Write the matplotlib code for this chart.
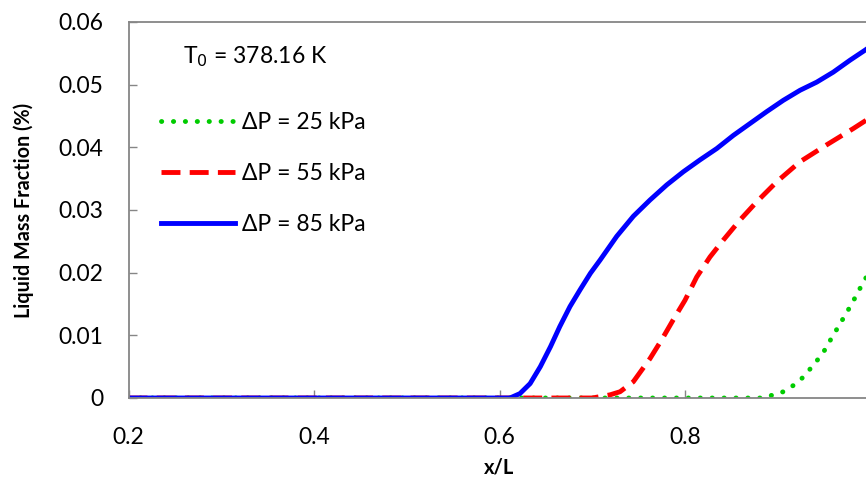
import matplotlib.pyplot as plt

# x/L positions and liquid mass fraction (%)
x_25 = [0.2, 0.6113, 0.72, 0.80, 0.8844, 0.895, 0.906, 0.9168, 0.9265, 0.9347, 0.943,
        0.950, 0.9562, 0.9626, 0.969, 0.9754, 0.9815, 0.9873, 0.993, 1.0]
y_25 = [0, 0, 0, 0, 0, 0.0005, 0.0010, 0.0020, 0.0032, 0.0046, 0.0061,
        0.0075, 0.0091, 0.0107, 0.0123, 0.0139, 0.0155, 0.0171, 0.0187, 0.0203]

x_55 = [0.2, 0.6113, 0.70, 0.7191, 0.73, 0.7443, 0.7623, 0.7749, 0.7874, 0.80, 0.8126,
        0.8269, 0.8413, 0.8593, 0.8773, 0.8989, 0.924, 0.9528, 0.9815, 0.9951, 1.0]
y_55 = [0, 0, 0, 0.0005, 0.0010, 0.0026, 0.0063, 0.0093, 0.0125, 0.0156, 0.0193,
        0.0225, 0.0252, 0.0284, 0.0313, 0.0345, 0.0377, 0.0404, 0.0430, 0.0443, 0.0448]

x_85 = [0.2, 0.6113, 0.622, 0.633, 0.644, 0.655, 0.665, 0.676, 0.687, 0.698, 0.7084,
        0.7264, 0.7443, 0.7623, 0.7803, 0.7982, 0.8162, 0.8342, 0.8521, 0.8701, 0.8881,
        0.906, 0.924, 0.942, 0.9599, 0.9779, 0.9941, 1.0]
y_85 = [0, 0, 0.0007, 0.0023, 0.0050, 0.0082, 0.0114, 0.0146, 0.0173, 0.0199, 0.0220,
        0.0258, 0.0290, 0.0316, 0.0340, 0.0361, 0.0380, 0.0398, 0.0419, 0.0438, 0.0457,
        0.0475, 0.0491, 0.0504, 0.0520, 0.0539, 0.0555, 0.0561]

labels = ['ΔP = 25 kPa', 'ΔP = 55 kPa', 'ΔP = 85 kPa']

plt.rcParams['font.family'] = ['Lato', 'DejaVu Sans']

fig = plt.figure(figsize=(8.66, 4.83), dpi=100)
ax = fig.add_axes([0.1484, 0.176, 0.8568, 0.7785])

ax.plot(x_25, y_25, color='#00cc00', lw=3.5, linestyle=(0, (0.05, 2.4)),
        dash_capstyle='round', label=labels[0])
ax.plot(x_55, y_55, color='#ff0000', lw=3.5, linestyle=(0, (3.9, 1.9)), label=labels[1])
ax.plot(x_85, y_85, color='#0000ff', lw=3.5, label=labels[2])

ax.set_xlim(0.2, 1.0)
ax.set_ylim(0, 0.06)
ax.set_xticks([0.2, 0.4, 0.6, 0.8, 1.0])
ax.set_xticklabels(['0.2', '0.4', '0.6', '0.8', '1'])
ax.set_yticks([0, 0.01, 0.02, 0.03, 0.04, 0.05, 0.06])
ax.set_yticklabels(['0', '0.01', '0.02', '0.03', '0.04', '0.05', '0.06'])

for s in ax.spines.values():
    s.set_color('#868686')
    s.set_linewidth(1.3)
ax.tick_params(axis='both', direction='in', color='#868686', length=6, width=1,
               labelsize=16.5)
ax.tick_params(axis='y', pad=18)
ax.tick_params(axis='x', pad=21)

ax.set_xlabel('x/L', fontsize=14.5, fontweight='bold')
ax.set_ylabel('Liquid Mass Fraction (%)', fontsize=14.2, fontweight='bold')
ax.xaxis.set_label_coords(0.5, -0.157)
ax.yaxis.set_label_coords(-0.127, 0.5)

ax.text(0.0734, 0.907, 'T$_0$ = 378.16 K', transform=ax.transAxes, fontsize=16.5,
        va='center', ha='left')
ax.legend(loc='upper left', bbox_to_anchor=(0.029, 0.79), frameon=False, fontsize=16.5,
          handlelength=3.2, handletextpad=0.3, labelspacing=1.31, borderpad=0)

fig.savefig('out.png', dpi=100)
